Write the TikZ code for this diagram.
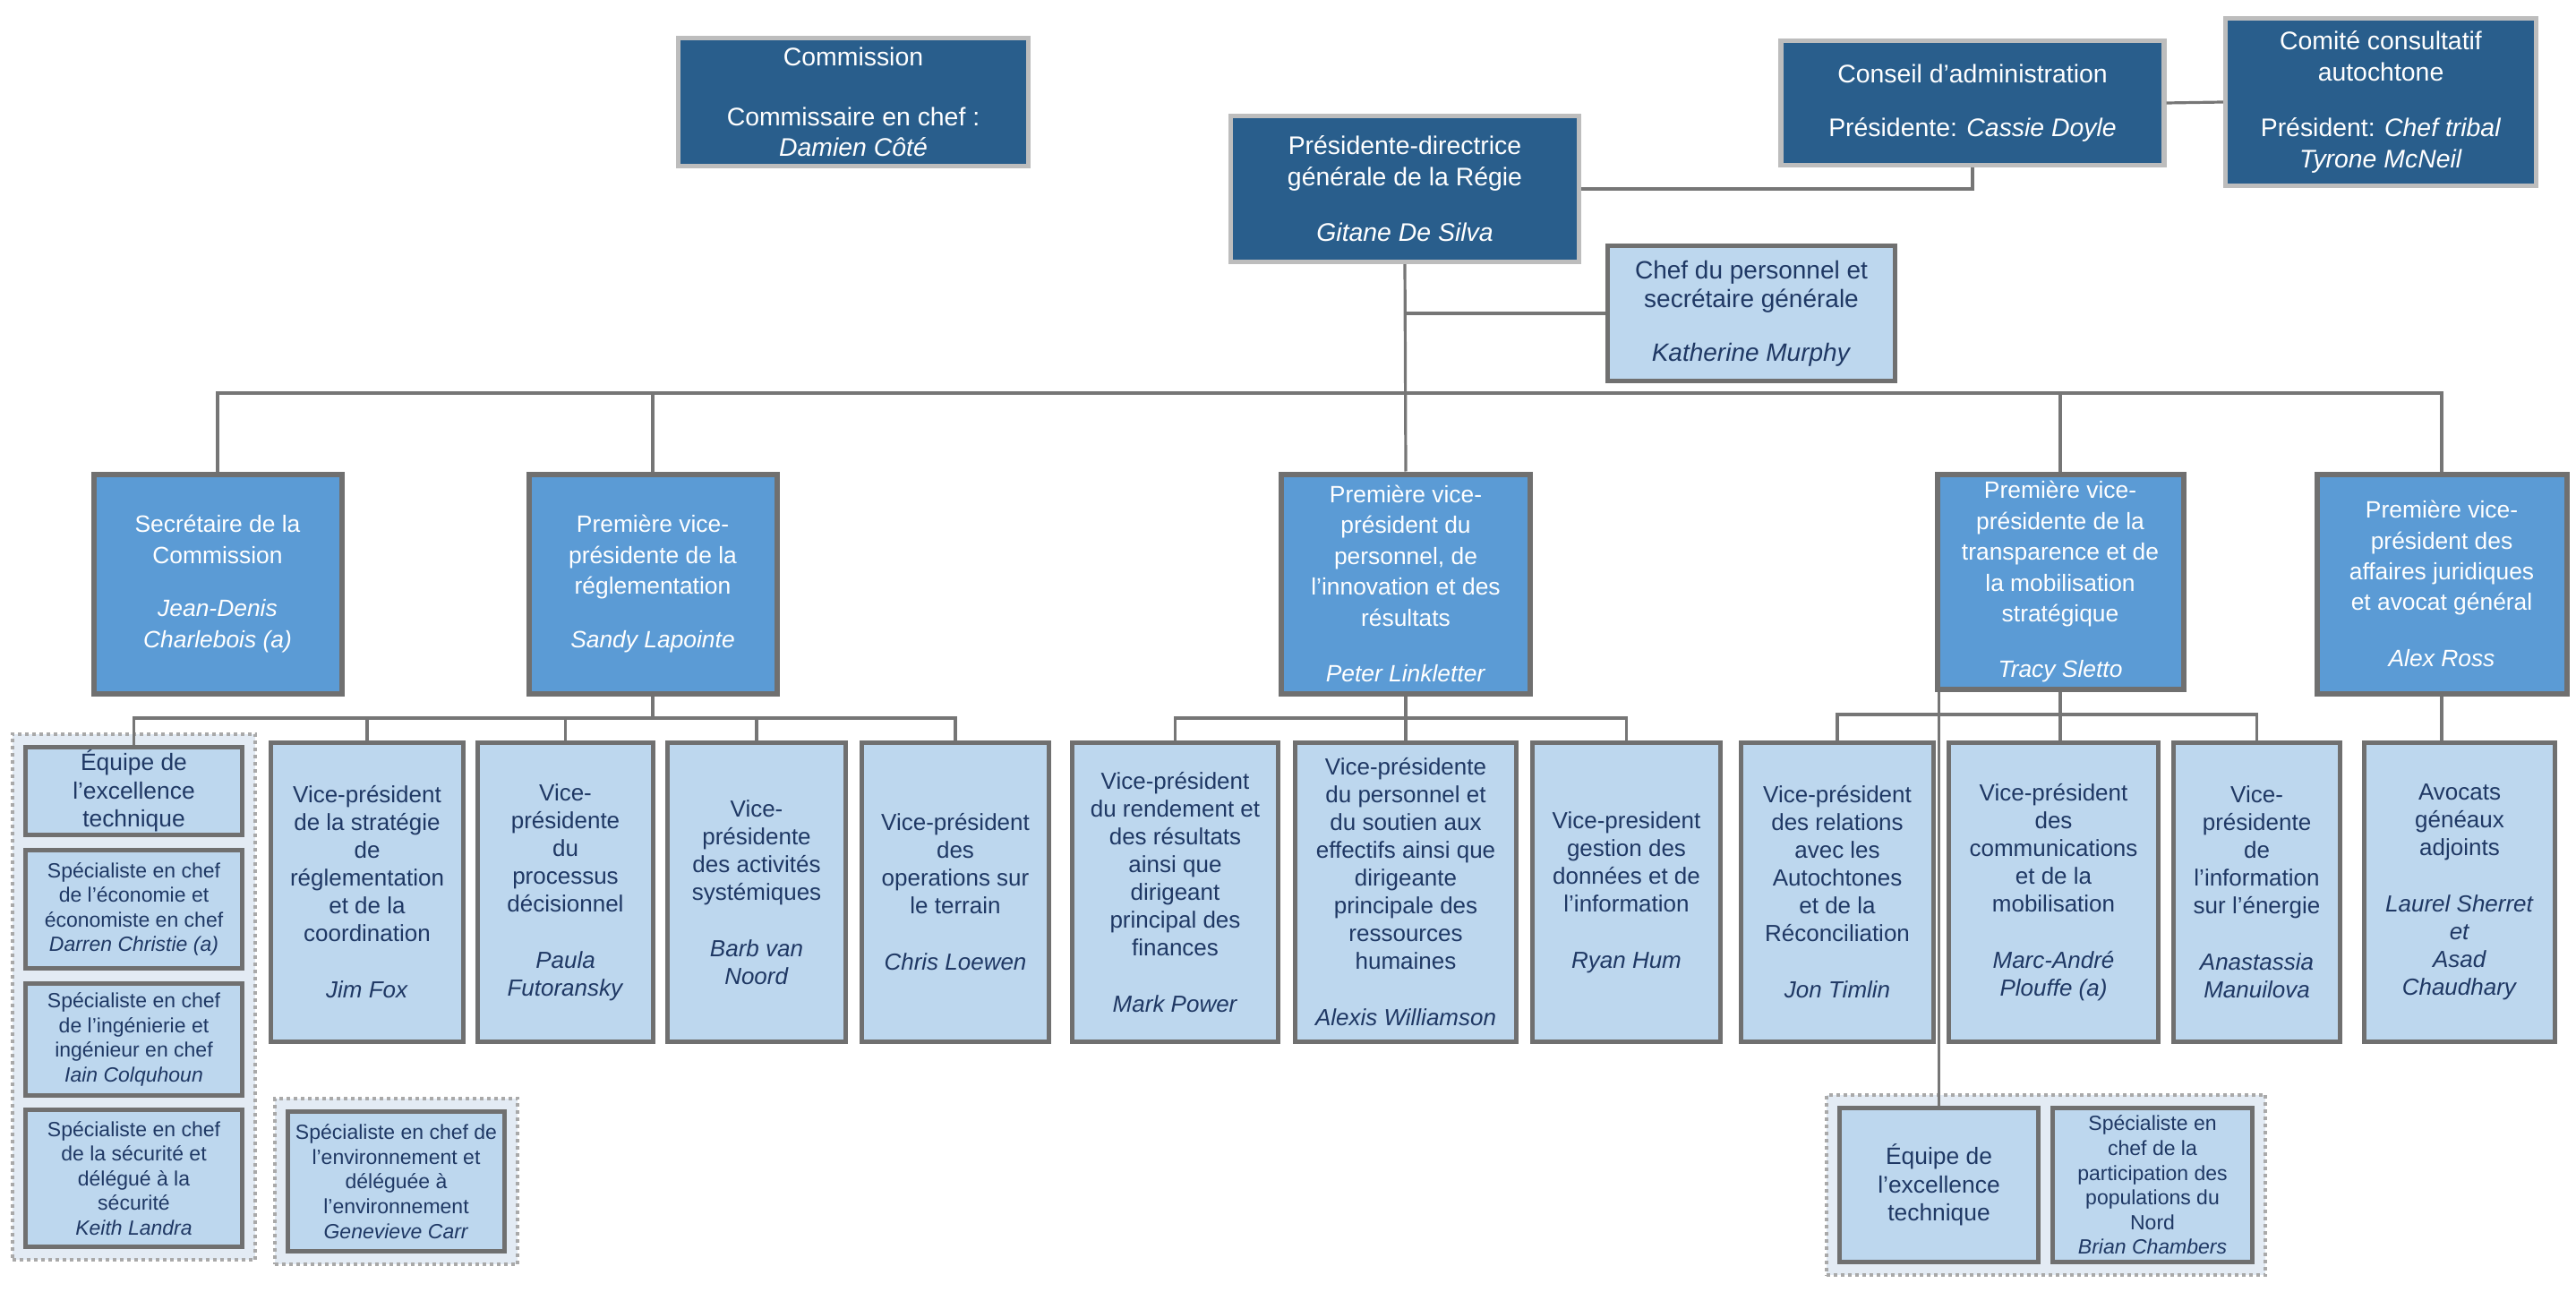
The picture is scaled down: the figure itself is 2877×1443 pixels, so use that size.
\documentclass[tikz,border=0pt]{standalone}
\usepackage{fontspec}
\setmainfont{Liberation Sans}
\usetikzlibrary{fit, backgrounds}
\definecolor{topblue}{HTML}{295E8C}
\definecolor{topedge}{HTML}{BDBDBD}
\definecolor{midblue}{HTML}{5B9BD5}
\definecolor{paleblue}{HTML}{BDD7EE}
\definecolor{boxedge}{HTML}{707070}
\definecolor{navy}{HTML}{1F3864}
\definecolor{linegray}{HTML}{767676}
\definecolor{dotgray}{HTML}{A9A9A9}
\definecolor{grpfill}{HTML}{E3EBF4}

\tikzset{
  sz/.style 2 args={minimum width=(#1-5)*0.25pt, minimum height=(#2-5)*0.25pt},
  box/.style={draw, rectangle, align=center, inner sep=0pt},
  topbox/.style={box, fill=topblue, draw=topedge, line width=1.3pt, text=white, font=\fontsize{7.1}{8.7}\selectfont},
  chefbox/.style={box, fill=paleblue, draw=boxedge, line width=1.4pt, text=navy, font=\fontsize{7}{8}\selectfont},
  vpbox/.style={box, fill=midblue, draw=boxedge, line width=1.5pt, text=white, font=\fontsize{6.6}{8.6}\selectfont},
  unitbox/.style={box, fill=paleblue, draw=boxedge, line width=1.4pt, text=navy, font=\fontsize{6.5}{7.75}\selectfont},
  teambox/.style={unitbox, font=\fontsize{6.6}{7.9}\selectfont},
  specbox/.style={unitbox, font=\fontsize{5.75}{6.9}\selectfont},
  grp/.style={draw=dotgray, fill=grpfill, line width=1pt, dash pattern=on 1pt off 1pt, inner sep=3pt},
  link/.style={draw=linegray, line width=0.8pt},
}

\begin{document}
\begin{tikzpicture}[x=0.25pt, y=-0.25pt]
\useasboundingbox (0,0) rectangle (2877,1443);

% haut
\node[topbox, sz={396}{148}] (commission) at (953,114) {Commission\\[8pt]Commissaire en chef :\\\textit{Damien Côté}};
\node[topbox, sz={394}{168}] (pdg) at (1569,211) {Présidente-directrice\\générale de la Régie\\[6.8pt]\textit{Gitane De Silva}};
\node[topbox, sz={433}{144}] (conseil) at (2203,115) {Conseil d'administration\\[6.3pt]Présidente: \textit{Cassie Doyle}};
\node[topbox, sz={352}{192}] (comite) at (2659,114) {Comité consultatif\\autochtone\\[6.8pt]Président: \textit{Chef tribal}\\\textit{Tyrone McNeil}};
\node[chefbox, sz={326}{156}] (chef) at (1956,350) {Chef du personnel et\\secrétaire générale\\[7pt]\textit{Katherine Murphy}};

% premières vice-présidences
\node[vpbox, sz={282}{250}] (secretaire) at (243,652) {Secrétaire de la\\Commission\\[6.3pt]\textit{Jean-Denis}\\\textit{Charlebois (a)}};
\node[vpbox, sz={282}{250}] (reglement) at (729,652) {Première vice-\\présidente de la\\réglementation\\[6.3pt]\textit{Sandy Lapointe}};
\node[vpbox, sz={283}{250}] (linkletter) at (1570,652) {Première vice-\\président du\\personnel, de\\l’innovation et des\\résultats\\[7pt]\textit{Peter Linkletter}};
\node[vpbox, sz={280}{245}] (transparence) at (2301,650) {Première vice-\\présidente de la\\transparence et de\\la mobilisation\\stratégique\\[7pt]\textit{Tracy Sletto}};
\node[vpbox, sz={284}{250}] (juridique) at (2727,652) {Première vice-\\président des\\affaires juridiques\\et avocat général\\[7pt]\textit{Alex Ross}};

% vice-présidences
\node[unitbox, sz={220}{339}] (strategie) at (410,996.5) {Vice-président\\de la stratégie\\de\\réglementation\\et de la\\coordination\\[8pt]\textit{Jim Fox}};
\node[unitbox, sz={201}{339}] (processus) at (631.5,996.5) {Vice-\\présidente\\du\\processus\\décisionnel\\[8pt]\textit{Paula}\\\textit{Futoransky}};
\node[unitbox, sz={204}{339}] (activites) at (845,996.5) {Vice-\\présidente\\des activités\\systémiques\\[8pt]\textit{Barb van}\\\textit{Noord}};
\node[unitbox, sz={214}{339}] (operations) at (1067,996.5) {Vice-président\\des\\operations sur\\le terrain\\[8pt]\textit{Chris Loewen}};
\node[unitbox, sz={235}{339}] (rendement) at (1312.5,996.5) {Vice-président\\du rendement et\\des résultats\\ainsi que\\dirigeant\\principal des\\finances\\[8pt]\textit{Mark Power}};
\node[unitbox, sz={252}{339}] (soutien) at (1570,996.5) {Vice-présidente\\du personnel et\\du soutien aux\\effectifs ainsi que\\dirigeante\\principale des\\ressources\\humaines\\[8pt]\textit{Alexis Williamson}};
\node[unitbox, sz={215}{339}] (donnees) at (1816.5,996.5) {Vice-president\\gestion des\\données et de\\l’information\\[8pt]\textit{Ryan Hum}};
\node[unitbox, sz={220}{339}] (relations) at (2052,996.5) {Vice-président\\des relations\\avec les\\Autochtones\\et de la\\Réconciliation\\[8pt]\textit{Jon Timlin}};
\node[unitbox, sz={239}{339}] (communications) at (2293.5,996.5) {Vice-président\\des\\communications\\et de la\\mobilisation\\[8pt]\textit{Marc-André}\\\textit{Plouffe (a)}};
\node[unitbox, sz={191}{339}] (energie) at (2520.5,996.5) {Vice-\\présidente\\de\\l’information\\sur l’énergie\\[8pt]\textit{Anastassia}\\\textit{Manuilova}};
\node[unitbox, sz={218}{339}] (avocats) at (2747,996.5) {Avocats\\généaux\\adjoints\\[8pt]\textit{Laurel Sherret}\\\textit{et}\\\textit{Asad}\\\textit{Chaudhary}};

% spécialistes
\node[teambox, sz={247}{103}] (equipeA) at (149.5,883.5) {Équipe de\\l’excellence\\technique};
\node[specbox, sz={247}{137}] (economie) at (149.5,1015.5) {Spécialiste en chef\\de l’économie et\\économiste en chef\\\textit{Darren Christie (a)}};
\node[specbox, sz={247}{130}] (ingenierie) at (149.5,1161) {Spécialiste en chef\\de l’ingénierie et\\ingénieur en chef\\\textit{Iain Colquhoun}};
\node[specbox, sz={247}{158}] (securite) at (149.5,1316) {Spécialiste en chef\\de la sécurité et\\délégué à la\\sécurité\\\textit{Keith Landra}};
\node[specbox, sz={247}{161}] (environnement) at (442.5,1319.5) {Spécialiste en chef de\\l’environnement et\\déléguée à\\l’environnement\\\textit{Genevieve Carr}};
\node[teambox, sz={227}{177}] (equipeB) at (2165.5,1323.5) {Équipe de\\l’excellence\\technique};
\node[specbox, sz={228}{177}] (nord) at (2404,1323.5) {Spécialiste en\\chef de la\\participation des\\populations du\\Nord\\\textit{Brian Chambers}};

\begin{scope}[on background layer]
\node[grp, fit=(equipeA)(securite)] (groupeA) {};
\node[grp, fit=(environnement)] (groupeB) {};
\node[grp, fit=(equipeB)(nord)] (groupeC) {};
\end{scope}

% liens
\coordinate (bus) at (0,439);
\coordinate (busreg) at (0,802);
\coordinate (bustr) at (0,798);

\draw[link] (conseil.east) -- (comite.west);
\draw[link] (pdg.east) -| (conseil.south);
\draw[link] (pdg.south) -- (linkletter.north);
\draw[link] (chef.west) -- (chef.west -| pdg.south);
\draw[link] (secretaire.north) |- (bus -| juridique.north) -- (juridique.north);
\foreach \u in {reglement, transparence}
  \draw[link] (\u.north) -- (\u.north |- bus);

\draw[link] (reglement.south) -- (reglement.south |- busreg);
\draw[link] (equipeA.north) |- (busreg -| operations.north) -- (operations.north);
\foreach \u in {strategie, processus, activites}
  \draw[link] (\u.north) -- (\u.north |- busreg);

\draw[link] (linkletter.south) -- (soutien.north);
\draw[link] (rendement.north) |- (busreg -| donnees.north) -- (donnees.north);

\draw[link] (transparence.south) -- (transparence.south |- communications.north);
\draw[link] (relations.north) |- (bustr -| energie.north) -- (energie.north);
\draw[link] (transparence.south -| equipeB.north) -- (equipeB.north);

\draw[link] (juridique.south) -- (juridique.south |- avocats.north);
\end{tikzpicture}
\end{document}
